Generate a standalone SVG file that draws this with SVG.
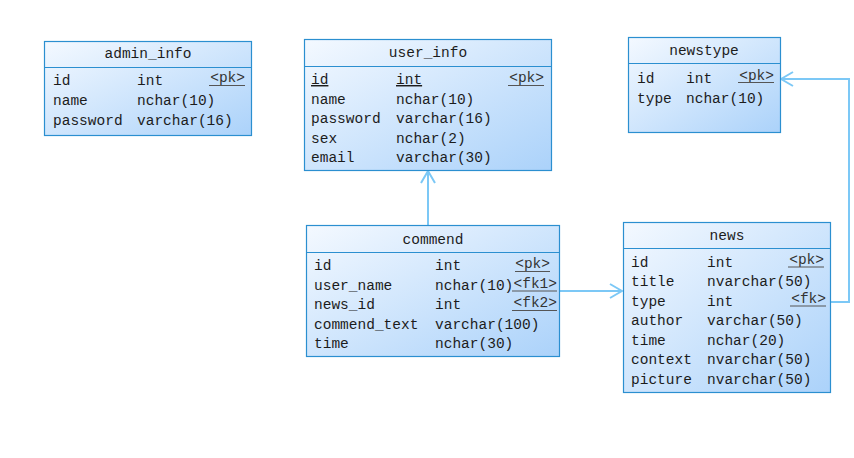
<svg xmlns="http://www.w3.org/2000/svg" width="854" height="458" viewBox="0 0 854 458">
<defs>
<linearGradient id="g" x1="0" y1="0" x2="1" y2="1">
<stop offset="0" stop-color="#f4f9ff"/>
<stop offset="1" stop-color="#abd2fa"/>
</linearGradient>
<marker id="arr" viewBox="0 0 14 16" refX="13" refY="8" markerWidth="14" markerHeight="16" markerUnits="userSpaceOnUse" orient="auto">
<path d="M1,1 L13,8 L1,15" fill="none" stroke="#7cc8f6" stroke-width="2"/>
</marker>
<style>
.box{fill:url(#g);stroke:#2b8fd0;stroke-width:1.2}
.sep{stroke:#2b8fd0;stroke-width:1.2}
text{font-family:"Liberation Mono","DejaVu Sans Mono",monospace;font-size:14.5px;fill:#1c1c1c}
.t{text-anchor:middle}
.k{text-anchor:end;fill:#333}
.ul{stroke:#555;stroke-width:1}
.c{fill:none;stroke:#7cc8f6;stroke-width:2}
</style>
</defs>
<rect width="854" height="458" fill="#fff"/>
<g id="connectors">
<path class="c" d="M428,225 V171" marker-end="url(#arr)"/>
<path class="c" d="M559,291 H622" marker-end="url(#arr)"/>
<path class="c" d="M831,302 H849 V79 H781" marker-end="url(#arr)"/>
</g>
<g id="admin_info">
<rect class="box" x="44.5" y="41.5" width="207" height="94"/>
<line class="sep" x1="44.5" y1="67.5" x2="251.5" y2="67.5"/>
<text class="t" x="148" y="58">admin_info</text>
<text x="53" y="85">id</text><text x="137" y="85">int</text><text class="k" x="245" y="82">&lt;pk&gt;</text>
<line class="ul" x1="209" y1="85.5" x2="245" y2="85.5"/>
<text x="53" y="105">name</text><text x="137" y="105">nchar(10)</text>
<text x="53" y="124.5">password</text><text x="137" y="124.5">varchar(16)</text>
</g>
<g id="user_info">
<rect class="box" x="304.5" y="39.5" width="247" height="131"/>
<line class="sep" x1="304.5" y1="66.5" x2="551.5" y2="66.5"/>
<text class="t" x="428" y="57">user_info</text>
<text x="311" y="84" text-decoration="underline">id</text><text x="396" y="84" text-decoration="underline">int</text><text class="k" x="544" y="82">&lt;pk&gt;</text>
<line class="ul" x1="508" y1="85.5" x2="544" y2="85.5"/>
<text x="311" y="103.5">name</text><text x="396" y="103.5">nchar(10)</text>
<text x="311" y="123">password</text><text x="396" y="123">varchar(16)</text>
<text x="311" y="142.5">sex</text><text x="396" y="142.5">nchar(2)</text>
<text x="311" y="162">email</text><text x="396" y="162">varchar(30)</text>
</g>
<g id="newstype">
<rect class="box" x="628.5" y="37.5" width="152" height="95"/>
<line class="sep" x1="628.5" y1="63.5" x2="780.5" y2="63.5"/>
<text class="t" x="704" y="55">newstype</text>
<text x="637" y="82.5">id</text><text x="686" y="82.5">int</text><text class="k" x="774" y="80">&lt;pk&gt;</text>
<line class="ul" x1="738" y1="82.5" x2="774" y2="82.5"/>
<text x="637" y="102.5">type</text><text x="686" y="102.5">nchar(10)</text>
</g>
<g id="commend">
<rect class="box" x="306.5" y="225.5" width="253" height="131"/>
<line class="sep" x1="306.5" y1="252.5" x2="559.5" y2="252.5"/>
<text class="t" x="433" y="244">commend</text>
<text x="314" y="269.5">id</text><text x="435" y="269.5">int</text><text class="k" x="550" y="268">&lt;pk&gt;</text>
<line class="ul" x1="515" y1="271.5" x2="550" y2="271.5"/>
<text x="314" y="289.5">user_name</text><text x="435" y="289.5">nchar(10)</text><text class="k" x="557" y="288">&lt;fk1&gt;</text>
<line class="ul" x1="512" y1="291" x2="557" y2="291"/>
<text x="314" y="308.5">news_id</text><text x="435" y="308.5">int</text><text class="k" x="557" y="307">&lt;fk2&gt;</text>
<line class="ul" x1="512" y1="310.5" x2="557" y2="310.5"/>
<text x="314" y="328.5">commend_text</text><text x="435" y="328.5">varchar(100)</text>
<text x="314" y="347.5">time</text><text x="435" y="347.5">nchar(30)</text>
</g>
<g id="news">
<rect class="box" x="623.5" y="222.5" width="207" height="170"/>
<line class="sep" x1="623.5" y1="248.5" x2="830.5" y2="248.5"/>
<text class="t" x="727" y="240">news</text>
<text x="631" y="266.5">id</text><text x="707" y="266.5">int</text><text class="k" x="824" y="264">&lt;pk&gt;</text>
<line class="ul" x1="788" y1="267" x2="824" y2="267"/>
<text x="631" y="286">title</text><text x="707" y="286">nvarchar(50)</text>
<text x="631" y="305.5">type</text><text x="707" y="305.5">int</text><text class="k" x="826" y="303">&lt;fk&gt;</text>
<line class="ul" x1="790" y1="306" x2="826" y2="306"/>
<text x="631" y="325">author</text><text x="707" y="325">varchar(50)</text>
<text x="631" y="344.5">time</text><text x="707" y="344.5">nchar(20)</text>
<text x="631" y="364">context</text><text x="707" y="364">nvarchar(50)</text>
<text x="631" y="383.5">picture</text><text x="707" y="383.5">nvarchar(50)</text>
</g>
</svg>
